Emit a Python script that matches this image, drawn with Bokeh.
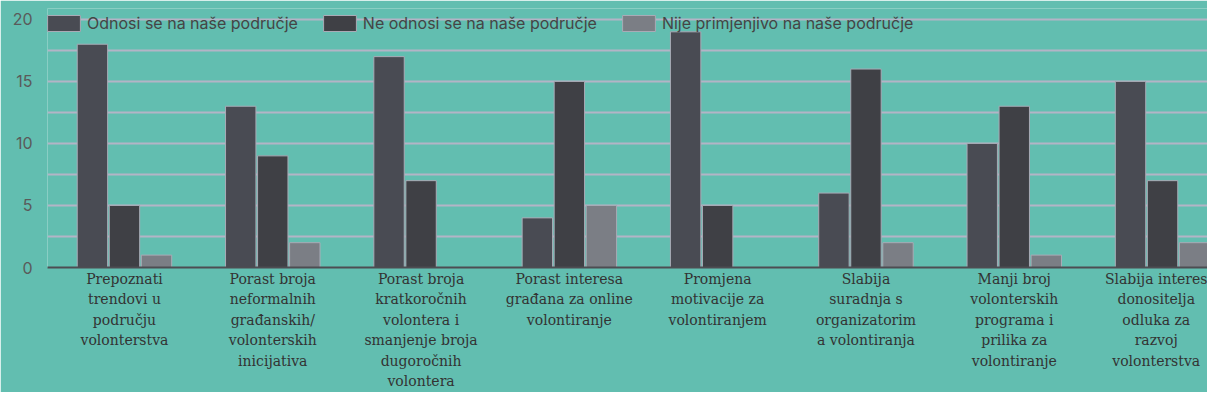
from bokeh.plotting import figure
from bokeh.models import Range1d, FixedTicker, Legend, LegendItem
from bokeh.embed import file_html
from bokeh.resources import INLINE

categories = [
    "Prepoznati\ntrendovi u\npodručju\nvolonterstva",
    "Porast broja\nneformalnih\ngrađanskih/\nvolonterskih\ninicijativa",
    "Porast broja\nkratkoročnih\nvolontera i\nsmanjenje broja\ndugoročnih\nvolontera",
    "Porast interesa\ngrađana za online\nvolontiranje",
    "Promjena\nmotivacije za\nvolontiranjem",
    "Slabija\nsuradnja s\norganizatorim\na volontiranja",
    "Manji broj\nvolonterskih\nprograma i\nprilika za\nvolontiranje",
    "Slabija interes\ndonositelja\nodluka za\nrazvoj\nvolonterstva",
]
series_names = [
    "Odnosi se na naše područje",
    "Ne odnosi se na naše područje",
    "Nije primjenjivo na naše područje",
]
odnosi = [18, 13, 17, 4, 19, 6, 10, 15]
ne_odnosi = [5, 9, 7, 15, 5, 16, 13, 7]
nije = [1, 2, 0, 5, 0, 2, 1, 2]
y_ticks = [0, 5, 10, 15, 20]
y_minor = [2.5, 7.5, 12.5, 17.5]

BG = "#62beb0"
colors = ["#494b53", "#3f4045", "#7b7e85"]
OUTLINE = "#a9abb6"
GRID = "#b3b4c6"

p = figure(width=1207, height=392, output_backend="svg", toolbar_location=None,
           x_range=Range1d(-0.019, 7.803), y_range=Range1d(0, 20.88),
           min_border_left=47, min_border_right=0, min_border_top=8, min_border_bottom=124)
p.background_fill_color = BG
p.border_fill_color = BG
p.outline_line_color = None

centers = [i + 0.5 for i in range(len(categories))]
offsets = [-0.216, 0.0, 0.216]
renderers = []
for vals, off, col in zip([odnosi, ne_odnosi, nije], offsets, colors):
    r = p.vbar(x=[c + off for c in centers], top=vals, width=0.205,
               fill_color=col, line_color=OUTLINE, line_width=1)
    renderers.append(r)

# grid
p.xgrid.grid_line_color = None
p.ygrid.grid_line_color = GRID
p.ygrid.grid_line_width = 2
p.ygrid.minor_grid_line_color = GRID
p.ygrid.minor_grid_line_width = 2
p.yaxis.ticker = FixedTicker(ticks=y_ticks, minor_ticks=y_minor)

# y axis
p.yaxis.axis_line_color = None
p.yaxis.major_tick_line_color = None
p.yaxis.minor_tick_line_color = None
p.yaxis.major_tick_out = 0
p.yaxis.minor_tick_out = 0
p.yaxis.major_label_text_font = "Inter"
p.yaxis.major_label_text_font_size = "16px"
p.yaxis.major_label_text_color = "#5a5a5a"
p.yaxis.major_label_standoff = 15

# x axis
p.xaxis.ticker = FixedTicker(ticks=centers)
p.xaxis.major_label_overrides = {c: lab for c, lab in zip(centers, categories)}
p.xaxis.axis_line_color = "#4d4d52"
p.xaxis.axis_line_width = 2
p.xaxis.major_tick_line_color = None
p.xaxis.minor_tick_line_color = None
p.xaxis.major_tick_out = 0
p.xaxis.minor_tick_out = 0
p.xaxis.major_label_text_font = "DejaVu Serif"
p.xaxis.major_label_text_font_size = "14px"
p.xaxis.major_label_text_color = "#333333"
p.xaxis.major_label_text_line_height = 1.285
p.xaxis.major_label_standoff = 3

legend = Legend(items=[LegendItem(label=n, renderers=[r]) for n, r in zip(series_names, renderers)],
                orientation="horizontal", location=(-6, 232),
                glyph_width=41, glyph_height=20, label_height=20, label_standoff=3,
                spacing=21, padding=2, margin=0,
                label_text_font="Inter", label_text_font_size="16px",
                label_text_color="#454545",
                background_fill_alpha=0, border_line_alpha=0)
p.add_layout(legend)

open("out.html", "w").write(file_html(p, INLINE))
